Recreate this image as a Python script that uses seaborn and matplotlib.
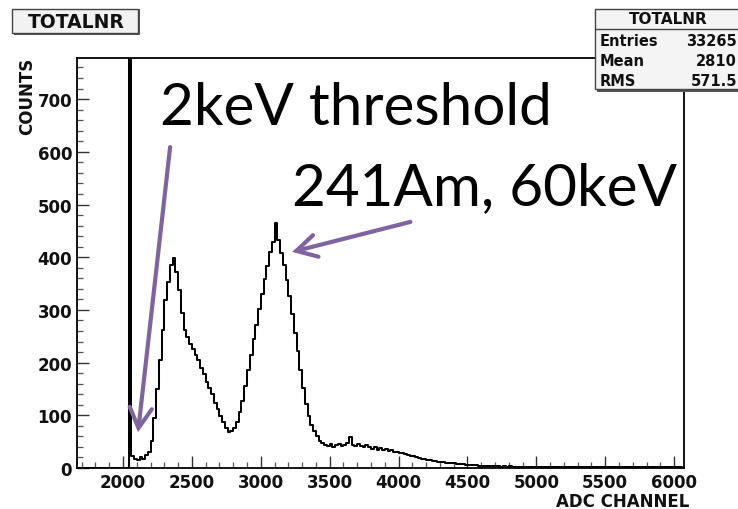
import numpy as np
import pandas as pd
import matplotlib
matplotlib.use("Agg")
import matplotlib.pyplot as plt
import seaborn as sns
from matplotlib.patches import Rectangle

# ---------------- data ----------------
BIN_START = 1680          # first bin edge (ADC channel)
BIN_WIDTH = 20            # channels per bin
COUNTS = [
    # 1680 .. 2020 (empty below threshold)
    0, 0, 0, 0, 0, 0, 0, 0, 0, 0, 0, 0, 0, 0, 0, 0, 0, 0,
    # 2040 threshold spike
    1400,
    # 2060 .. 2180
    22, 18, 15, 20, 17, 24, 30,
    # 2200 .. 2440 (first peak)
    52, 95, 150, 205, 262, 318, 352, 385, 398, 372, 338, 295, 262,
    # 2460 .. 2760 (shoulder and valley)
    248, 236, 226, 214, 204, 190, 178, 163, 152, 140, 124, 112, 98, 88, 76, 68,
    # 2780 .. 3100 (241Am peak)
    70, 76, 88, 106, 128, 156, 186, 214, 244, 272, 302, 330, 358, 384, 410, 428, 465,
    # 3120 .. 3460
    432, 408, 386, 356, 326, 292, 256, 222, 186, 152, 122, 98, 82, 70, 60, 52, 47, 44,
    # 3480 .. 3800
    41, 45, 40, 43, 46, 41, 44, 47, 58, 44, 42, 45, 41, 39, 43, 40, 37,
    # 3820 .. 4200
    40, 35, 38, 34, 36, 32, 34, 30, 31, 28, 29, 26, 25, 23, 22, 20, 19, 18, 17, 16,
    # 4220 .. 4860
    15, 14, 13, 12, 12, 11, 10, 10, 9, 9, 8, 7, 7, 6, 6, 5, 5, 5, 4, 4, 4, 3, 4, 3,
    3, 3, 2, 3, 2, 3, 2, 2, 2,
    # 4880 .. 6040
    2, 1, 2, 2, 1, 2, 1, 1, 2, 1, 2, 1, 1, 2, 1, 1, 1, 2, 1, 1, 2, 1, 1, 1, 2, 1, 1,
    1, 1, 2, 1, 1, 1, 1, 1, 2, 1, 1, 1, 1, 1, 1, 2, 1, 1, 1, 1, 1, 1, 1, 2, 1, 1, 1,
    1, 1, 1, 1, 1,
]

X_TICKS = [2000, 2500, 3000, 3500, 4000, 4500, 5000, 5500, 6000]
Y_TICKS = [0, 100, 200, 300, 400, 500, 600, 700]
X_LIMITS = (1666, 6072)
Y_LIMITS = (0, 778)

HIST_NAME = "TOTALNR"
X_TITLE = "ADC CHANNEL"
Y_TITLE = "COUNTS"
STATS_ROWS = [("Entries", "33265"), ("Mean", "2810"), ("RMS", "571.5")]

LABEL_THRESHOLD = "2keV threshold"
LABEL_PEAK = "241Am, 60keV"
THRESH_TEXT_POS = (2269, 653)
THRESH_ARROW_FROM = (2342, 609)
THRESH_ARROW_TO = (2109, 68)
PEAK_TEXT_POS = (3228, 501)
PEAK_ARROW_FROM = (4086, 467)
PEAK_ARROW_TO = (3228, 410)

# ---------------- build dataframe ----------------
n_bins = len(COUNTS)
bin_end = BIN_START + BIN_WIDTH * n_bins
centers = BIN_START + BIN_WIDTH * (np.arange(n_bins) + 0.5)
df = pd.DataFrame({"channel": centers, "counts": np.array(COUNTS, dtype=float)})

# ---------------- figure ----------------
sns.set_style("white")
plt.rcParams["font.family"] = ["DejaVu Sans"]

W, H = 738, 510
fig = plt.figure(figsize=(W / 100, H / 100), dpi=100)
fig.patch.set_facecolor("white")


def fx(px):
    return px / W


def fy(py):
    return 1 - py / H


ax = fig.add_axes([fx(77), fy(469), fx(684 - 77), (469 - 59) / H])

sns.histplot(data=df, x="channel", weights="counts", binwidth=BIN_WIDTH,
             binrange=(BIN_START, bin_end),
             element="step", fill=False, color="black", linewidth=1.45, ax=ax)

ax.set_xlim(*X_LIMITS)
ax.set_ylim(*Y_LIMITS)
ax.set_xticks(X_TICKS)
ax.set_yticks(Y_TICKS)
ax.set_xticks(np.arange(1700, 6100, 100), minor=True)
ax.set_yticks(np.arange(0, 780, 20), minor=True)
ax.set_xlabel("")
ax.set_ylabel("")
for s in ax.spines.values():
    s.set_color("black")
    s.set_linewidth(1.3)

ax.tick_params(which="major", direction="in", length=8.5, width=1.0,
               color="#333333", labelsize=12, bottom=True, left=True,
               top=False, right=False)
ax.tick_params(which="minor", direction="in", length=4.3, width=0.9,
               color="#555555", bottom=True, left=True, top=False, right=False)
ax.tick_params(axis="x", which="major", pad=3.5)
ax.tick_params(axis="y", which="major", pad=3.5)
for lab in ax.get_xticklabels() + ax.get_yticklabels():
    lab.set_fontweight("bold")
    lab.set_color("#111111")

# axis titles (ROOT style, at the ends)
fig.text(fx(689), fy(502), X_TITLE, ha="right", va="center",
         fontsize=12, fontweight="bold", color="#111111")
fig.text(fx(27), fy(58), Y_TITLE, ha="center", va="top", rotation=90,
         fontsize=12, fontweight="bold", color="#111111")

# title box
fig.add_artist(Rectangle((fx(14), fy(36)), fx(126), 26 / H,
                         facecolor="#555555", edgecolor="none", zorder=5))
fig.add_artist(Rectangle((fx(12), fy(34)), fx(126), 24 / H,
                         facecolor="#f2f2f2", edgecolor="#444444",
                         linewidth=1.0, zorder=6))
fig.text(fx(76), fy(22), HIST_NAME, ha="center", va="center",
         fontsize=13.5, fontweight="bold", color="#111111", zorder=7)

# stats box
fig.add_artist(Rectangle((fx(597), fy(93)), fx(160), 83 / H,
                         facecolor="#555555", edgecolor="none", zorder=5))
fig.add_artist(Rectangle((fx(595), fy(90)), fx(160), 80 / H,
                         facecolor="#f4f4f4", edgecolor="#444444",
                         linewidth=1.0, zorder=6))
fig.add_artist(plt.Line2D([fx(595), fx(738)], [fy(30), fy(30)],
                          color="#444444", linewidth=1.0, zorder=7))
fig.text(fx(668), fy(19), HIST_NAME, ha="center", va="center",
         fontsize=11, fontweight="bold", color="#111111", zorder=8)
for i, (name, val) in enumerate(STATS_ROWS):
    y = fy(41 + 20 * i)
    fig.text(fx(600), y, name, ha="left", va="center", fontsize=10.5,
             fontweight="bold", color="#111111", zorder=8)
    fig.text(fx(737), y, val, ha="right", va="center", fontsize=10.5,
             fontweight="bold", color="#111111", zorder=8)

# annotations
PURPLE = "#8064A2"
ax.text(*THRESH_TEXT_POS, LABEL_THRESHOLD, family=["Lato", "DejaVu Sans"],
        fontsize=42, ha="left", va="baseline", color="black", zorder=10)
ax.text(*PEAK_TEXT_POS, LABEL_PEAK, family=["Lato", "DejaVu Sans"],
        fontsize=42, ha="left", va="baseline", color="black", zorder=10)
arrow_style = "->,head_length=0.72,head_width=0.4"
for start, end in [(THRESH_ARROW_FROM, THRESH_ARROW_TO),
                   (PEAK_ARROW_FROM, PEAK_ARROW_TO)]:
    ax.annotate("", xy=end, xytext=start,
                arrowprops=dict(arrowstyle=arrow_style, color=PURPLE,
                                lw=3.0, mutation_scale=20,
                                shrinkA=0, shrinkB=0, capstyle="round",
                                joinstyle="miter"),
                annotation_clip=False, zorder=11)

fig.savefig("out.png", dpi=100)
